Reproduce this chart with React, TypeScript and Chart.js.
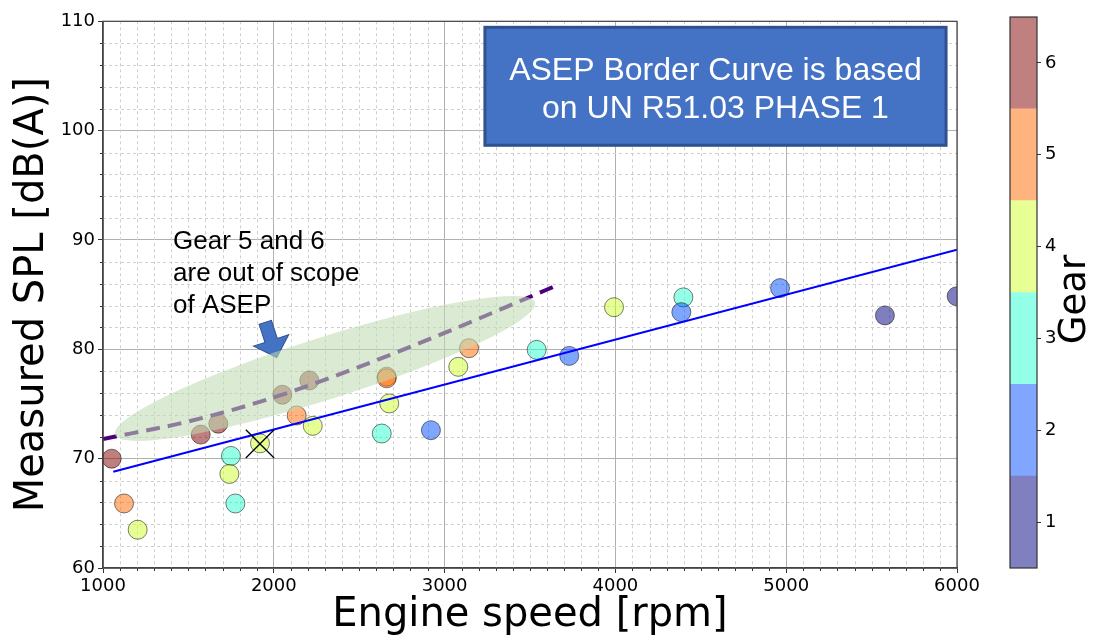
import React, { useEffect, useRef } from 'react';
import { Chart, registerables } from 'chart.js';

Chart.register(...registerables);

// ---------- data ----------
const engineRpm = [1051, 1123, 1203, 1572, 1675, 1749, 1740, 1775, 1919, 2050, 2208, 2134, 2228, 2632, 2661, 2661, 2676, 2920, 3080, 3143, 3539, 3730, 3992, 4398, 4386, 4964, 5578, 5998];
const splDb = [70.0, 65.9, 63.5, 72.2, 73.2, 70.25, 68.6, 65.9, 71.4, 75.85, 77.15, 73.95, 73.0, 72.3, 77.5, 77.35, 75.05, 72.6, 78.4, 80.1, 79.95, 79.4, 83.85, 84.75, 83.4, 85.6, 83.1, 84.85];
const gearNo = [6, 5, 4, 6, 6, 3, 4, 3, 4, 6, 6, 5, 4, 3, 5, 5, 4, 2, 4, 5, 3, 2, 4, 3, 2, 2, 1, 1];

// ASEP border curve (solid blue)
const borderRpm = [1060, 6000];
const borderDb = [68.8, 89.1];

// gear 5/6 trend (dashed)
const scopeRpm = [1000, 1500, 2000, 2500, 3000, 3500, 3650];
const scopeDb = [71.8, 73.4, 75.6, 78.4, 81.5, 84.8, 85.8];

// crossed-out point
const markRpm = [1919];
const markDb = [71.35];

const gearLevels = [1, 2, 3, 4, 5, 6];
const gearRgb = [
  [0, 0, 128],
  [0, 77, 255],
  [41, 255, 206],
  [206, 255, 41],
  [255, 105, 0],
  [128, 0, 0],
];

const xTicks = [1000, 2000, 3000, 4000, 5000, 6000];
const yTicks = [60, 70, 80, 90, 100, 110];

const xTitle = 'Engine speed [rpm]';
const yTitle = 'Measured SPL [dB(A)]';
const cbTitle = 'Gear';
const boxLines = ['ASEP Border Curve is based', 'on UN R51.03 PHASE 1'];
const noteLines = ['Gear 5 and 6', 'are out of scope', 'of ASEP'];

// annotation anchors (data coordinates)
const boxCorners = { x1: 3236, y1: 109.45, x2: 5936, y2: 98.66 };
const noteAnchor = { x: 1410, y: 89.16 };
const ellipseEnds = { xa: 1070, ya: 72.2, xb: 3529, yb: 84.3 };
const arrowTip = { x: 2017, y: 79.25 };

// ---------- helpers ----------
const rgba = (c: number[], a: number) => `rgba(${c[0]},${c[1]},${c[2]},${a})`;
const solid = (c: number[]) => `rgb(${Math.round(c[0] * 0.5 + 127.5)},${Math.round(c[1] * 0.5 + 127.5)},${Math.round(c[2] * 0.5 + 127.5)})`;
const toXY = (xs: number[], ys: number[]) => xs.map((x, i) => ({ x, y: ys[i] }));

const TICK_FONT = { family: 'DejaVu Sans', size: 18 };
const TITLE_FONT = { family: 'DejaVu Sans', size: 40, lineHeight: 1 };

const overlayPlugin = {
  id: 'overlay',
  beforeDatasetsDraw(chart: any) {
    const { ctx, chartArea: a, scales } = chart;
    const xs = scales.x, ys = scales.y;
    ctx.save();
    ctx.strokeStyle = '#cfcfcf';
    ctx.lineWidth = 1;
    ctx.setLineDash([3, 3]);
    for (let v = 1100; v < 6000; v += 100) {
      if (v % 1000 === 0) continue;
      const px = Math.round(xs.getPixelForValue(v)) + 0.5;
      ctx.beginPath();
      ctx.moveTo(px, a.top);
      ctx.lineTo(px, a.bottom);
      ctx.stroke();
    }
    for (let v = 62; v < 110; v += 2) {
      if (v % 10 === 0) continue;
      const py = Math.round(ys.getPixelForValue(v)) + 0.5;
      ctx.beginPath();
      ctx.moveTo(a.left, py);
      ctx.lineTo(a.right, py);
      ctx.stroke();
    }
    ctx.restore();
  },
  afterDatasetsDraw(chart: any) {
    const { ctx, chartArea: a, scales } = chart;
    const xs = scales.x, ys = scales.y;
    ctx.save();

    // minor ticks
    ctx.strokeStyle = '#333';
    ctx.lineWidth = 1;
    ctx.setLineDash([]);
    for (let v = 1100; v < 6000; v += 100) {
      if (v % 1000 === 0) continue;
      const px = Math.round(xs.getPixelForValue(v)) + 0.5;
      ctx.beginPath();
      ctx.moveTo(px, a.bottom);
      ctx.lineTo(px, a.bottom + 3);
      ctx.stroke();
    }
    for (let v = 62; v < 110; v += 2) {
      if (v % 10 === 0) continue;
      const py = Math.round(ys.getPixelForValue(v)) + 0.5;
      ctx.beginPath();
      ctx.moveTo(a.left, py);
      ctx.lineTo(a.left - 3, py);
      ctx.stroke();
    }

    // arrow
    const tx = xs.getPixelForValue(arrowTip.x);
    const ty = ys.getPixelForValue(arrowTip.y);
    ctx.save();
    ctx.translate(tx, ty);
    ctx.rotate((-18 * Math.PI) / 180);
    ctx.beginPath();
    ctx.moveTo(0, 0);
    ctx.lineTo(-18.5, -18);
    ctx.lineTo(-6.5, -18);
    ctx.lineTo(-6.5, -37);
    ctx.lineTo(6.5, -37);
    ctx.lineTo(6.5, -18);
    ctx.lineTo(18.5, -18);
    ctx.closePath();
    ctx.fillStyle = '#4472c4';
    ctx.fill();
    ctx.strokeStyle = '#2f528f';
    ctx.lineWidth = 1;
    ctx.stroke();
    ctx.restore();

    // ellipse
    const ax = xs.getPixelForValue(ellipseEnds.xa), ay = ys.getPixelForValue(ellipseEnds.ya);
    const bx = xs.getPixelForValue(ellipseEnds.xb), by = ys.getPixelForValue(ellipseEnds.yb);
    const cx = (ax + bx) / 2, cy = (ay + by) / 2;
    const semiMajor = Math.hypot(bx - ax, by - ay) / 2;
    const ang = Math.atan2(by - ay, bx - ax);
    ctx.beginPath();
    ctx.ellipse(cx, cy, semiMajor, 31, ang, 0, Math.PI * 2);
    ctx.fillStyle = 'rgba(192,218,175,0.57)';
    ctx.fill();

    // spines
    ctx.strokeStyle = '#444';
    ctx.lineWidth = 1.2;
    ctx.strokeRect(a.left, a.top, a.right - a.left, a.bottom - a.top);

    // note text
    ctx.fillStyle = '#000';
    ctx.font = '26px "Liberation Sans", Arial, sans-serif';
    ctx.textAlign = 'left';
    ctx.textBaseline = 'alphabetic';
    const nx = xs.getPixelForValue(noteAnchor.x);
    const ny = ys.getPixelForValue(noteAnchor.y);
    noteLines.forEach((t, i) => ctx.fillText(t, nx, ny + i * 32));

    // blue info box
    const bx1 = xs.getPixelForValue(boxCorners.x1), by1 = ys.getPixelForValue(boxCorners.y1);
    const bx2 = xs.getPixelForValue(boxCorners.x2), by2 = ys.getPixelForValue(boxCorners.y2);
    ctx.fillStyle = '#4472c4';
    ctx.fillRect(bx1, by1, bx2 - bx1, by2 - by1);
    ctx.strokeStyle = '#2f528f';
    ctx.lineWidth = 3;
    ctx.strokeRect(bx1, by1, bx2 - bx1, by2 - by1);
    ctx.fillStyle = '#fff';
    ctx.font = '32px "Liberation Sans", Arial, sans-serif';
    ctx.textAlign = 'center';
    const bcx = (bx1 + bx2) / 2;
    boxLines.forEach((t, i) => ctx.fillText(t, bcx, by1 + 53 + i * 37.3));

    ctx.restore();
  },
};

const colorbarPlugin = {
  id: 'cbframe',
  afterDraw(chart: any) {
    const { ctx, chartArea: a } = chart;
    ctx.save();
    ctx.strokeStyle = '#333';
    ctx.lineWidth = 1.2;
    ctx.strokeRect(a.left, a.top, a.right - a.left, a.bottom - a.top);
    ctx.translate(85, (a.top + a.bottom) / 2 + 7);
    ctx.rotate(-Math.PI / 2);
    ctx.fillStyle = '#000';
    ctx.font = '37px "DejaVu Sans"';
    ctx.textAlign = 'center';
    ctx.textBaseline = 'middle';
    ctx.fillText(cbTitle, 0, 0);
    ctx.restore();
  },
};

export default function App() {
  const mainRef = useRef<HTMLCanvasElement | null>(null);
  const cbRef = useRef<HTMLCanvasElement | null>(null);

  useEffect(() => {
    if (!mainRef.current || !cbRef.current) return;

    const main = new Chart(mainRef.current, {
      type: 'scatter',
      data: {
        datasets: [
          {
            label: 'excluded',
            data: toXY(markRpm, markDb),
            pointStyle: 'crossRot',
            pointRadius: 20,
            borderColor: '#000',
            borderWidth: 1.3,
            backgroundColor: 'rgba(0,0,0,0)',
            order: 1,
            clip: 0,
          },
          {
            label: 'gear 5/6 trend',
            data: toXY(scopeRpm, scopeDb),
            showLine: true,
            borderColor: '#4b0082',
            borderWidth: 4,
            borderDash: [14, 8],
            cubicInterpolationMode: 'monotone',
            pointRadius: 0,
            order: 2,
            clip: 0,
          },
          {
            label: 'ASEP border',
            data: toXY(borderRpm, borderDb),
            showLine: true,
            borderColor: '#0000ff',
            borderWidth: 2,
            pointRadius: 0,
            order: 3,
            clip: 0,
          },
          {
            label: 'measurements',
            data: toXY(engineRpm, splDb),
            backgroundColor: gearNo.map((g) => rgba(gearRgb[g - 1], 0.5)),
            borderColor: 'rgba(0,0,0,0.5)',
            borderWidth: 1,
            pointRadius: 9.5,
            order: 4,
            clip: 0,
          },
        ],
      },
      options: {
        responsive: false,
        animation: false,
        events: [],
        layout: { padding: { top: 17, right: 137, left: 0, bottom: 0 } },
        plugins: { legend: { display: false }, tooltip: { enabled: false } },
        scales: {
          x: {
            type: 'linear',
            min: 1000,
            max: 6000,
            afterBuildTicks: (s: any) => {
              s.ticks = xTicks.map((v) => ({ value: v }));
            },
            afterFit: (s: any) => {
              s.height = 69;
            },
            ticks: { font: TICK_FONT, color: '#000', padding: 3, maxRotation: 0, autoSkip: false, callback: (v: any) => String(v) },
            grid: { color: '#b0b0b0', lineWidth: 1, tickColor: '#333', tickLength: 5, tickWidth: 1 },
            border: { display: true, color: '#444', width: 1.2 },
            title: { display: true, text: xTitle, font: TITLE_FONT, color: '#000', padding: { top: 0, bottom: 1 } },
          },
          y: {
            type: 'linear',
            min: 60,
            max: 110,
            afterBuildTicks: (s: any) => {
              s.ticks = yTicks.map((v) => ({ value: v }));
            },
            afterFit: (s: any) => {
              s.width = 103;
            },
            ticks: { font: TICK_FONT, color: '#000', padding: 3, autoSkip: false, callback: (v: any) => String(v) },
            grid: { color: '#b0b0b0', lineWidth: 1, tickColor: '#333', tickLength: 5, tickWidth: 1 },
            border: { display: true, color: '#444', width: 1.2 },
            title: { display: true, text: yTitle, font: TITLE_FONT, color: '#000', padding: { top: 13, bottom: 0 } },
          },
        },
      },
      plugins: [overlayPlugin],
    } as any);

    const cb = new Chart(cbRef.current, {
      type: 'bar',
      data: {
        labels: [cbTitle],
        datasets: gearLevels.map((g, i) => ({
          label: String(g),
          data: [[g - 0.5, g + 0.5]],
          backgroundColor: solid(gearRgb[i]),
          borderWidth: 0,
          barPercentage: 1,
          categoryPercentage: 1,
          grouped: false,
        })),
      },
      options: {
        responsive: false,
        animation: false,
        events: [],
        layout: { padding: { left: 20, top: 17, bottom: 69, right: 0 } },
        plugins: { legend: { display: false }, tooltip: { enabled: false } },
        scales: {
          x: { display: false },
          y: {
            position: 'right',
            min: 0.5,
            max: 6.5,
            afterBuildTicks: (s: any) => {
              s.ticks = gearLevels.map((v) => ({ value: v }));
            },
            afterFit: (s: any) => {
              s.width = 57;
            },
            ticks: { font: TICK_FONT, color: '#000', padding: 4, callback: (v: any) => String(v) },
            grid: { drawOnChartArea: false, tickLength: 4, tickColor: '#333', tickWidth: 1 },
            border: { display: false },
          },
        },
      },
      plugins: [colorbarPlugin],
    } as any);

    return () => {
      main.destroy();
      cb.destroy();
    };
  }, []);

  return (
    <div style={{ position: 'fixed', left: 0, top: 0, width: 1094, height: 637, background: '#fff' }}>
      <canvas ref={mainRef} width={1094} height={637} style={{ position: 'absolute', left: 0, top: 0 }} />
      <canvas ref={cbRef} width={104} height={637} style={{ position: 'absolute', left: 990, top: 0 }} />
    </div>
  );
}
